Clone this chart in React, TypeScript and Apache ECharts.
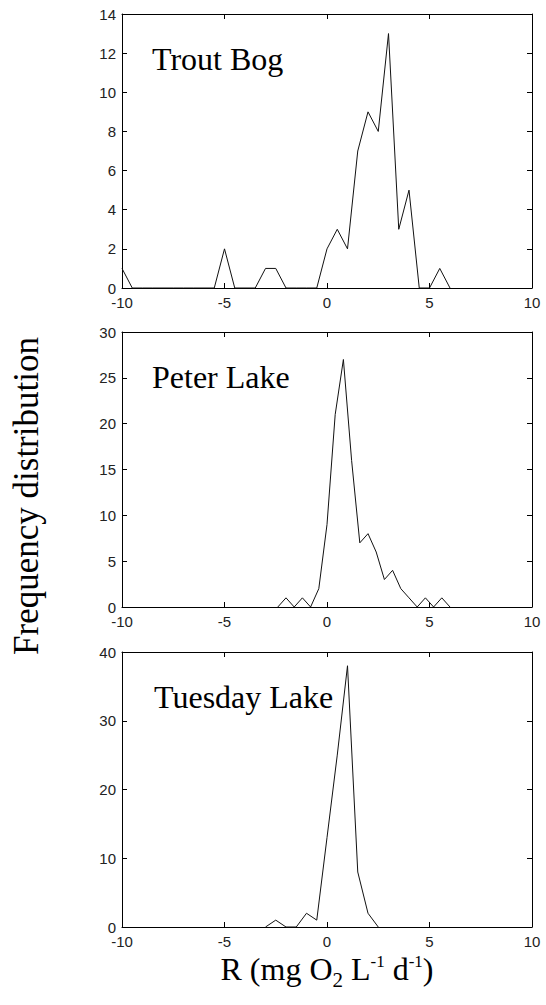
import React, { useEffect, useRef } from "react";
import * as echarts from "echarts";

// ---- data ----
const panelNames = ["Trout Bog", "Peter Lake", "Tuesday Lake"];

const troutX = [-10, -9.5, -9, -8.5, -8, -7.5, -7, -6.5, -6, -5.5, -5, -4.5, -4, -3.5, -3, -2.5, -2, -1.5, -1, -0.5, 0, 0.5, 1, 1.5, 2, 2.5, 3, 3.5, 4, 4.5, 5, 5.5, 6];
const troutY = [1, 0, 0, 0, 0, 0, 0, 0, 0, 0, 2, 0, 0, 0, 1, 1, 0, 0, 0, 0, 2, 3, 2, 7, 9, 8, 13, 3, 5, 0, 0, 1, 0];

const peterX = [-2.4, -2.0, -1.6, -1.2, -0.8, -0.4, 0.0, 0.4, 0.8, 1.2, 1.6, 2.0, 2.4, 2.8, 3.2, 3.6, 4.0, 4.4, 4.8, 5.2, 5.6, 6.0];
const peterY = [0, 1, 0, 1, 0, 2, 9, 21, 27, 16, 7, 8, 6, 3, 4, 2, 1, 0, 1, 0, 1, 0];

const tuesdayX = [-3, -2.5, -2, -1.5, -1, -0.5, 0, 0.5, 1, 1.5, 2, 2.5];
const tuesdayY = [0, 1, 0, 0, 2, 1, 13, 25, 38, 8, 2, 0];

const xMin = -10;
const xMax = 10;
const xInterval = 5;
const yMaxes = [14, 30, 40];
const yIntervals = [2, 5, 10];

const yAxisTitle = "Frequency distribution";
// x-axis title pieces: [text, kind]  (n = normal, sub = subscript, sup = superscript)
const xTitleParts: [string, string][] = [
  ["R (mg O", "n"],
  ["2", "sub"],
  [" L", "n"],
  ["-1", "sup"],
  [" d", "n"],
  ["-1", "sup"],
  [")", "n"],
];

const seriesX = [troutX, peterX, tuesdayX];
const seriesY = [troutY, peterY, tuesdayY];

const SERIF = "'Liberation Serif', 'Times New Roman', serif";

export default function App() {
  const ref = useRef<HTMLDivElement>(null);

  useEffect(() => {
    document.body.style.margin = "0";
    if (!ref.current) return;
    const chart = echarts.init(ref.current, null, { renderer: "svg" });

    const gridTops = [14, 332, 652];
    const gridHeights = [274, 275, 275];
    const gridLeft = 122;
    const gridWidth = 410;

    const tickFont = {
      fontFamily: "'Liberation Sans', Arial, sans-serif",
      fontSize: 15,
      color: "#222",
    };
    const axisLine = { show: true, onZero: false, lineStyle: { color: "#000", width: 1 } };
    const tick = { show: true, inside: true, length: 5, lineStyle: { color: "#000", width: 1 } };

    const grid: any[] = [];
    const xAxis: any[] = [];
    const yAxis: any[] = [];
    const series: any[] = [];
    const graphic: any[] = [];

    for (let i = 0; i < 3; i++) {
      grid.push({ left: gridLeft, top: gridTops[i], width: gridWidth, height: gridHeights[i], containLabel: false });
      xAxis.push({
        type: "value", gridIndex: i, position: "bottom", min: xMin, max: xMax, interval: xInterval,
        axisLine, axisTick: tick, splitLine: { show: false },
        axisLabel: { ...tickFont, margin: 7 },
      });
      xAxis.push({
        type: "value", gridIndex: i, position: "top", min: xMin, max: xMax, interval: xInterval,
        axisLine, axisTick: tick, splitLine: { show: false }, axisLabel: { show: false },
      });
      yAxis.push({
        type: "value", gridIndex: i, position: "left", min: 0, max: yMaxes[i], interval: yIntervals[i],
        axisLine, axisTick: tick, splitLine: { show: false },
        axisLabel: { ...tickFont, margin: 6 },
      });
      yAxis.push({
        type: "value", gridIndex: i, position: "right", min: 0, max: yMaxes[i], interval: yIntervals[i],
        axisLine, axisTick: tick, splitLine: { show: false }, axisLabel: { show: false },
      });
      series.push({
        type: "line", name: panelNames[i], xAxisIndex: 2 * i, yAxisIndex: 2 * i,
        data: seriesX[i].map((x, j) => [x, seriesY[i][j]]),
        symbol: "none", lineStyle: { color: "#111", width: 1 }, silent: true,
      });
      graphic.push({
        type: "text", left: i === 2 ? 154 : 152, top: gridTops[i] + 29,
        style: {
          text: panelNames[i],
          font: "32px " + SERIF,
          fill: "#000",
        },
      });
    }

    graphic.push({
      type: "text",
      x: 26, y: 496, rotation: Math.PI / 2,
      style: {
        text: yAxisTitle,
        font: "35px " + SERIF,
        fill: "#000", align: "center", verticalAlign: "middle",
      },
    });

    // x-axis title built from pieces, measured so they sit side by side
    const sizes: Record<string, number> = { n: 32, sub: 21, sup: 17 };
    const shifts: Record<string, number> = { n: 0, sub: 7, sup: -13 };
    const canvas = document.createElement("canvas");
    const ctx = canvas.getContext("2d")!;
    const widths = xTitleParts.map(([t, k]) => {
      ctx.font = `${sizes[k]}px ${SERIF}`;
      return ctx.measureText(t).width;
    });
    const total = widths.reduce((a, b) => a + b, 0);
    const centerX = gridLeft + gridWidth / 2;
    const baseline = 980;
    let cx = centerX - total / 2;
    xTitleParts.forEach(([t, k], idx) => {
      const s = sizes[k];
      graphic.push({
        type: "text",
        x: cx,
        y: baseline + shifts[k] - 0.34 * s,
        style: {
          text: t,
          font: `${s}px ${SERIF}`,
          fill: "#000",
          align: "left",
          verticalAlign: "middle",
        },
      });
      cx += widths[idx];
    });

    chart.setOption({
      animation: false,
      backgroundColor: "#fff",
      grid, xAxis, yAxis, series, graphic,
    });

    return () => chart.dispose();
  }, []);

  return <div ref={ref} style={{ width: 546, height: 1005 }} />;
}
